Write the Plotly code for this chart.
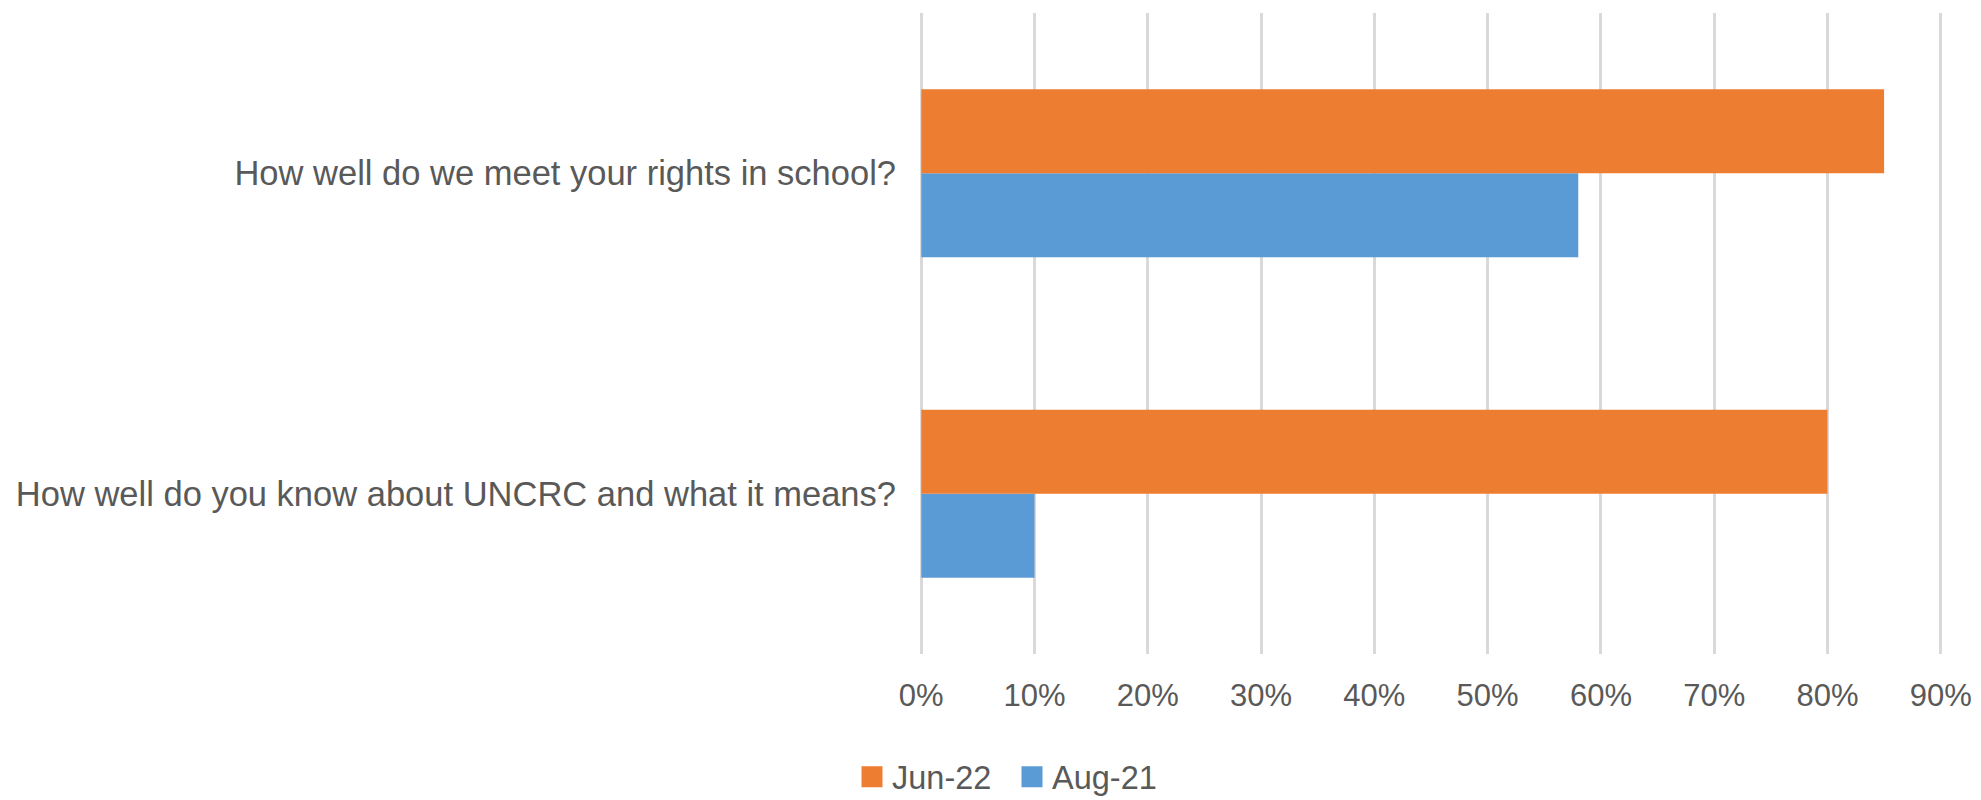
import plotly.graph_objects as go

categories = [
    "How well do you know about UNCRC and what it means?",
    "How well do we meet your rights in school?",
]
aug_21 = [0.10, 0.58]
jun_22 = [0.80, 0.85]
tick_vals = [0, 0.1, 0.2, 0.3, 0.4, 0.5, 0.6, 0.7, 0.8, 0.9]
tick_text = ["0%", "10%", "20%", "30%", "40%", "50%", "60%", "70%", "80%", "90%"]

FONT = "Liberation Sans, Arial, sans-serif"
GRAY = "#595959"
ORANGE = "#ed7d31"
BLUE = "#5b9bd5"

# the page body adds an 8px offset, so the figure is 8px smaller than the window
W, H = 1973, 792

fig = go.Figure()
fig.add_trace(go.Bar(y=categories, x=aug_21, name="Aug-21", orientation="h",
                     marker=dict(color=BLUE, line=dict(width=0)),
                     legendgroup="aug", showlegend=False))
fig.add_trace(go.Bar(y=categories, x=jun_22, name="Jun-22", orientation="h",
                     marker=dict(color=ORANGE, line=dict(width=0)),
                     legendgroup="jun", showlegend=False))
# legend entries (square swatches)
fig.add_trace(go.Scatter(x=[None], y=[None], mode="markers", name="Jun-22",
                         legendgroup="jun",
                         marker=dict(symbol="square", size=16, color=ORANGE,
                                     line=dict(color=ORANGE, width=5))))
fig.add_trace(go.Scatter(x=[None], y=[None], mode="markers", name="Aug-21",
                         legendgroup="aug",
                         marker=dict(symbol="square", size=16, color=BLUE,
                                     line=dict(color=BLUE, width=5))))

fig.update_layout(
    width=W, height=H,
    barmode="group", bargap=0.476, bargroupgap=0,
    plot_bgcolor="white", paper_bgcolor="white",
    margin=dict(l=911, r=38, t=5, b=146, autoexpand=False),
    font=dict(family=FONT, size=31, color=GRAY),
    legend=dict(orientation="h", traceorder="normal",
                xref="container", yref="container",
                x=844 / W, y=1 - 769 / H, xanchor="left", yanchor="middle",
                font=dict(size=32.5, color=GRAY), itemwidth=30,
                entrywidth=115, entrywidthmode="pixels",
                bgcolor="rgba(0,0,0,0)", borderwidth=0),
    showlegend=True,
)
fig.update_xaxes(range=[-0.002, 0.902], tickvals=tick_vals, ticktext=tick_text,
                 showgrid=True, gridcolor="#d9d9d9", gridwidth=3,
                 zeroline=False, showline=False, ticks="", automargin=False,
                 ticklabelstandoff=20, tickfont=dict(size=31, color=GRAY))
fig.update_yaxes(showgrid=False, zeroline=False, showline=False, ticks="",
                 automargin=False,
                 ticklabelstandoff=22, tickfont=dict(size=34.5, color=GRAY))

fig.write_html("out.html")
